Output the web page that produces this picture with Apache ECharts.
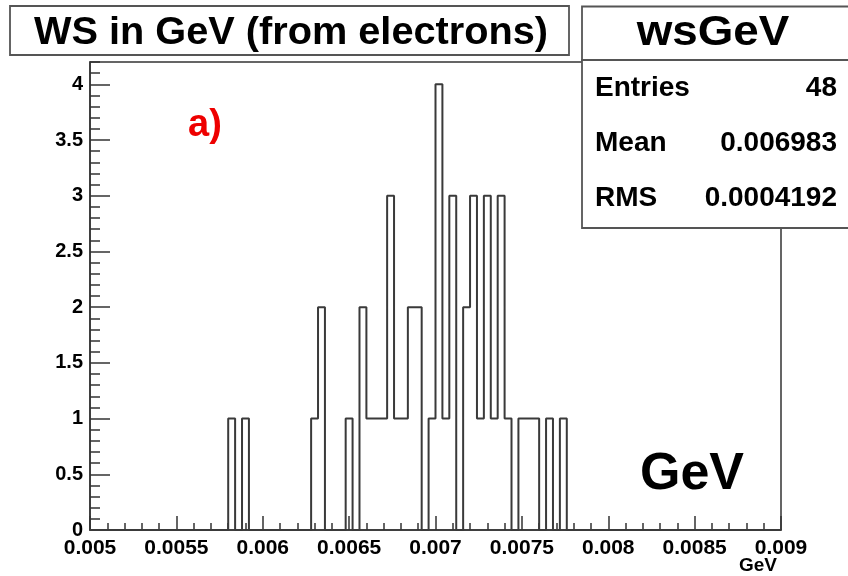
<!DOCTYPE html>
<html>
<head>
<meta charset="utf-8">
<script src="https://cdn.jsdelivr.net/npm/echarts@6/dist/echarts.min.js"></script>
<style>
  html, body { margin: 0; padding: 0; background: #fff; }
  #chart { width: 848px; height: 576px; }
</style>
</head>
<body>
<div id="chart"></div>
<script>
// Histogram binning: 100 bins from 0.005 to 0.009 GeV
const xMin = 0.005;
const xMax = 0.009;
const binWidth = 0.00004;

// Entries per bin
const counts = [
  0, 0, 0, 0, 0, 0, 0, 0, 0, 0,
  0, 0, 0, 0, 0, 0, 0, 0, 0, 0,
  1, 0, 1, 0, 0, 0, 0, 0, 0, 0,
  0, 0, 1, 2, 0, 0, 0, 1, 0, 2,
  1, 1, 1, 3, 1, 1, 2, 2, 0, 1,
  4, 1, 3, 0, 2, 3, 1, 3, 1, 3,
  1, 0, 1, 1, 1, 0, 1, 0, 1, 0,
  0, 0, 0, 0, 0, 0, 0, 0, 0, 0,
  0, 0, 0, 0, 0, 0, 0, 0, 0, 0,
  0, 0, 0, 0, 0, 0, 0, 0, 0, 0
];

// Statistics box text
const histName = 'wsGeV';
const histTitle = 'WS in GeV (from electrons)';
const statLabels = ['Entries', 'Mean', 'RMS'];
const statValues = ['48', '0.006983', '0.0004192'];

// Outline of the histogram: horizontal run over each bin, vertical jumps between bins
const outline = [];
counts.forEach(function (c, i) {
  const lo = xMin + i * binWidth;
  const hi = xMin + (i + 1) * binWidth;
  outline.push([lo, c]);
  outline.push([hi, c]);
});

const FONT = '"Liberation Sans", Arial, Helvetica, sans-serif';
const AXIS_COLOR = '#333';
const PAVE_COLOR = '#555';

// text helper: positioned element, optionally widened horizontally
function label(x, y, text, size, align, color, sx) {
  return {
    type: 'text', z: 20, x: x, y: y, scaleX: sx || 1,
    style: { x: 0, y: 0, text: text, font: 'bold ' + size + 'px ' + FONT, fill: color || '#000', align: align, verticalAlign: 'middle' }
  };
}

const chart = echarts.init(document.getElementById('chart'), null, { renderer: 'canvas' });

const statText = [];
statLabels.forEach(function (lab, i) {
  const y = 88 + i * 55;
  statText.push(label(595, y, lab, 28, 'left'));
  statText.push(label(837, y, statValues[i], 28, 'right'));
});

chart.setOption({
  animation: false,
  backgroundColor: '#fff',
  grid: {
    left: 90, right: 67, top: 62, bottom: 46,
    show: true, borderColor: AXIS_COLOR, borderWidth: 1.5, backgroundColor: 'transparent'
  },
  xAxis: [{
    type: 'value',
    min: xMin, max: xMax, interval: 0.0005,
    axisLine: { show: true, onZero: false, lineStyle: { color: AXIS_COLOR, width: 1.5 } },
    axisTick: { show: true, inside: true, length: 14, lineStyle: { color: AXIS_COLOR, width: 1.5 } },
    minorTick: { show: true, splitNumber: 5, length: 7, lineStyle: { color: AXIS_COLOR, width: 1.5 } },
    splitLine: { show: false },
    axisLabel: { color: '#000', fontFamily: FONT, fontWeight: 'bold', fontSize: 21, margin: 8 }
  }],
  yAxis: [{
    type: 'value',
    min: 0, max: 4.2, interval: 0.5,
    axisLine: { show: true, onZero: false, lineStyle: { color: AXIS_COLOR, width: 1.5 } },
    axisTick: { show: true, inside: true, length: 20, lineStyle: { color: AXIS_COLOR, width: 1.5 } },
    splitLine: { show: false },
    axisLabel: { color: '#000', fontFamily: FONT, fontWeight: 'bold', fontSize: 20, margin: 7, showMaxLabel: false }
  }, {
    // minor ticks every 0.1
    type: 'value', position: 'left', offset: 0,
    min: 0, max: 4.2, interval: 0.1,
    axisLine: { show: false },
    axisTick: { show: true, inside: true, length: 10, lineStyle: { color: AXIS_COLOR, width: 1.5 } },
    splitLine: { show: false },
    axisLabel: { show: false }
  }],
  series: [{
    type: 'line',
    xAxisIndex: 0, yAxisIndex: 0,
    data: outline,
    showSymbol: false, symbol: 'none',
    clip: true,
    lineStyle: { color: '#3a3a3a', width: 2 },
    z: 5
  }],
  graphic: [
    // title pave
    { type: 'rect', z: 10, shape: { x: 10, y: 6, width: 559, height: 49 },
      style: { fill: '#fff', stroke: PAVE_COLOR, lineWidth: 1.8 } },
    label(291, 33.5, histTitle, 38, 'center', '#000', 1.045),
    // name pave
    { type: 'rect', z: 10, shape: { x: 582, y: 6.5, width: 270, height: 53.5 },
      style: { fill: '#fff', stroke: PAVE_COLOR, lineWidth: 1.8 } },
    label(713, 33, histName, 42, 'center', '#000', 1.09),
    // statistics pave
    { type: 'rect', z: 10, shape: { x: 582, y: 60, width: 270, height: 168 },
      style: { fill: '#fff', stroke: PAVE_COLOR, lineWidth: 1.8 } }
  ].concat(statText).concat([
    label(188, 126, 'a)', 38, 'left', '#ee0000'),
    label(692, 475, 'GeV', 52, 'center'),
    label(777, 566, 'GeV', 19, 'right')
  ])
});
</script>
</body>
</html>
